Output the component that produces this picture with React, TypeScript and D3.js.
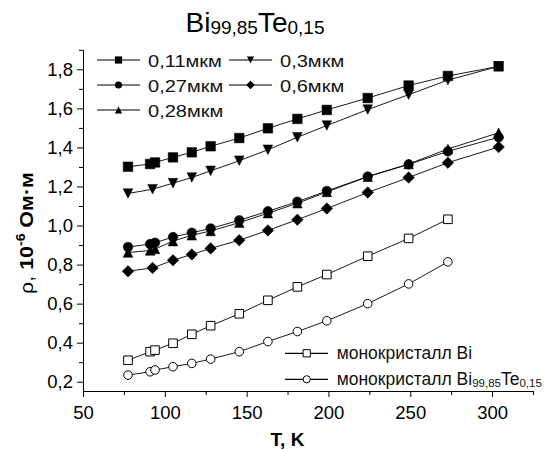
import React, { useEffect, useRef } from 'react';
import * as d3 from 'd3';

// temperatures, K
const tempA = [77.5, 91, 94, 105, 116.5, 128, 145.5, 163, 181, 199, 224, 249, 273, 304];
const tempB = [77.5, 92.5, 105, 116.5, 128, 145.5, 163, 181, 199, 224, 249, 273, 304];
const tempMono = [77.5, 91, 94, 105, 116.5, 128, 145.5, 163, 181, 199, 224, 249, 273];

// resistivity, 10^-6 Ohm*m
const rho011 = [1.301, 1.315, 1.323, 1.349, 1.375, 1.406, 1.448, 1.498, 1.546, 1.592, 1.653, 1.717, 1.766, 1.815];
const rho03 = [1.164, 1.186, 1.217, 1.246, 1.28, 1.332, 1.388, 1.452, 1.512, 1.594, 1.67, 1.745, 1.815];
const rho027 = [0.89, 0.905, 0.912, 0.941, 0.963, 0.985, 1.027, 1.073, 1.122, 1.177, 1.251, 1.313, 1.38, 1.452];
const rho028 = [0.862, 0.872, 0.88, 0.92, 0.95, 0.972, 1.015, 1.063, 1.114, 1.172, 1.25, 1.315, 1.392, 1.475];
const rho06 = [0.766, 0.783, 0.822, 0.852, 0.883, 0.925, 0.975, 1.03, 1.087, 1.169, 1.246, 1.322, 1.402];
const rhoMonoBi = [0.31, 0.354, 0.362, 0.397, 0.443, 0.487, 0.548, 0.617, 0.686, 0.749, 0.843, 0.934, 1.032];
const rhoMonoBiTe = [0.234, 0.251, 0.26, 0.277, 0.294, 0.316, 0.354, 0.406, 0.457, 0.512, 0.6, 0.701, 0.814];

const filmLabels = ['0,11мкм', '0,3мкм', '0,27мкм', '0,6мкм', '0,28мкм'];

const xTicks = [50, 100, 150, 200, 250, 300];
const xMinor = [75, 125, 175, 225, 275, 325];
const yTicks = [0.2, 0.4, 0.6, 0.8, 1.0, 1.2, 1.4, 1.6, 1.8];
const yMinor = [0.3, 0.5, 0.7, 0.9, 1.1, 1.3, 1.5, 1.7, 1.9];

const FONT = "'Liberation Sans', Arial, sans-serif";

const markerPath = (shape: string, s: number) => {
  if (shape === 'square') return `M${-s},${-s}h${2 * s}v${2 * s}h${-2 * s}Z`;
  if (shape === 'up') return `M0,${-s}L${s},${s}L${-s},${s}Z`;
  if (shape === 'down') return `M0,${s}L${s},${-s}L${-s},${-s}Z`;
  if (shape === 'diamond') return `M0,${-s * 1.2}L${s * 1.2},0L0,${s * 1.2}L${-s * 1.2},0Z`;
  return d3.arc()({ innerRadius: 0, outerRadius: s, startAngle: 0, endAngle: 2 * Math.PI } as any) as string;
};

export default function App() {
  const ref = useRef<SVGSVGElement>(null);

  useEffect(() => {
    const svg = d3.select(ref.current);
    svg.selectAll('*').remove();

    const x = d3.scaleLinear().domain([50, 325]).range([83, 533]);
    const y = d3.scaleLinear().domain([0.15, 1.9]).range([391.5, 49.8]);

    const films = [
      { label: filmLabels[0], temps: tempA, values: rho011, shape: 'square' },
      { label: filmLabels[1], temps: tempB, values: rho03, shape: 'down' },
      { label: filmLabels[2], temps: tempA, values: rho027, shape: 'circle' },
      { label: filmLabels[3], temps: tempB, values: rho06, shape: 'diamond' },
      { label: filmLabels[4], temps: tempA, values: rho028, shape: 'up' },
    ];
    const mono = [
      { temps: tempMono, values: rhoMonoBi, shape: 'square' },
      { temps: tempMono, values: rhoMonoBiTe, shape: 'circle' },
    ];

    // axes: minor ticks in their own groups so they don't replace the major ones
    svg.append('g').attr('transform', 'translate(0,391)')
      .call(d3.axisBottom(x).tickValues(xMinor).tickSize(4).tickSizeOuter(0).tickFormat(() => '') as any);
    const xg = svg.append('g').attr('transform', 'translate(0,391)');
    xg.call(d3.axisBottom(x).tickValues(xTicks).tickSize(6).tickSizeOuter(0).tickPadding(9).tickFormat((d: any) => String(d)));
    xg.selectAll('text').attr('font-size', 18.5).attr('font-family', FONT).attr('fill', '#000');

    svg.append('g').attr('transform', 'translate(83,0)')
      .call(d3.axisLeft(y).tickValues(yMinor).tickSize(4).tickSizeOuter(0).tickFormat(() => '') as any);
    const yg = svg.append('g').attr('transform', 'translate(83,0)');
    yg.call(d3.axisLeft(y).tickValues(yTicks).tickSize(6).tickSizeOuter(0).tickPadding(4)
      .tickFormat((d: any) => d3.format('.1f')(d).replace('.', ',')));
    yg.selectAll('text').attr('font-size', 18.5).attr('font-family', FONT).attr('fill', '#000');
    svg.selectAll('.domain').attr('stroke', '#000').attr('stroke-width', 1);
    svg.selectAll('.tick line').attr('stroke', '#000');

    // series
    const line = d3.line<number>();
    const drawSeries = (temps: number[], values: number[], shape: string, filled: boolean, size: number) => {
      const pts = temps.map((t, i) => [x(t), y(values[i])] as [number, number]);
      svg.append('path').attr('d', line(pts as any)).attr('fill', 'none').attr('stroke', '#000').attr('stroke-width', 0.9);
      svg.append('g').selectAll('path').data(pts).enter().append('path')
        .attr('transform', (p) => `translate(${p[0]},${p[1]})`)
        .attr('d', markerPath(shape, size))
        .attr('fill', filled ? '#000' : '#fff')
        .attr('stroke', '#000')
        .attr('stroke-width', filled ? 0.5 : 1);
    };
    mono.forEach((s) => drawSeries(s.temps, s.values, s.shape, false, 4.3));
    films.forEach((s) => drawSeries(s.temps, s.values, s.shape, true, 4.8));

    // top legend
    films.forEach((s, i) => {
      const x0 = [97, 229][i % 2];
      const cy = 60 + Math.floor(i / 2) * 25;
      svg.append('line').attr('x1', x0).attr('x2', x0 + 43).attr('y1', cy).attr('y2', cy).attr('stroke', '#000').attr('stroke-width', 1.2);
      svg.append('path').attr('transform', `translate(${x0 + 21.5},${cy})`).attr('d', markerPath(s.shape, 3.6)).attr('fill', '#000');
      svg.append('text').attr('transform', `translate(${x0 + 51},${cy + 6.5}) scale(1.18,1)`)
        .attr('font-size', 17).attr('font-family', FONT).attr('fill', '#111').text(s.label);
    });

    // bottom legend
    const monoLegend = [
      (t: any) => { t.append('tspan').text('монокристалл Bi'); },
      (t: any) => {
        t.append('tspan').text('монокристалл Bi');
        t.append('tspan').attr('font-size', 11.5).attr('dy', 1.5).text('99,85');
        t.append('tspan').attr('dy', -1.5).text('Te');
        t.append('tspan').attr('font-size', 11.5).attr('dy', 1.5).text('0,15');
      },
    ];
    mono.forEach((s, i) => {
      const cy = 353.3 + i * 26;
      svg.append('line').attr('x1', 285).attr('x2', 328).attr('y1', cy).attr('y2', cy).attr('stroke', '#000').attr('stroke-width', 1.2);
      svg.append('path').attr('transform', `translate(306.7,${cy})`).attr('d', markerPath(s.shape, 3.6))
        .attr('fill', '#fff').attr('stroke', '#000').attr('stroke-width', 1);
      const t = svg.append('text').attr('x', 336.7).attr('y', cy + 6).attr('font-size', 17.5).attr('font-family', FONT).attr('fill', '#111');
      monoLegend[i](t);
    });

    // title
    const title = svg.append('text').attr('x', 255).attr('y', 32).attr('text-anchor', 'middle')
      .attr('font-size', 28).attr('font-family', FONT).attr('fill', '#000');
    title.append('tspan').text('Bi');
    title.append('tspan').attr('font-size', 19).attr('dy', 2).text('99,85');
    title.append('tspan').attr('dy', -2).text('Te');
    title.append('tspan').attr('font-size', 19).attr('dy', 2).text('0,15');

    // axis titles
    svg.append('text').attr('x', 287.5).attr('y', 446).attr('text-anchor', 'middle')
      .attr('font-size', 19).attr('font-weight', 'bold').attr('font-family', FONT).text('T, K');

    const yl = svg.append('text').attr('transform', 'translate(33,233) rotate(-90) scale(1.16,1)')
      .attr('text-anchor', 'middle').attr('font-size', 18.5).attr('font-family', FONT).attr('fill', '#000');
    yl.append('tspan').text('ρ, ');
    yl.append('tspan').attr('font-weight', 'bold').text('10');
    yl.append('tspan').attr('font-weight', 'bold').attr('font-size', 12).attr('dy', -8).text('-6');
    yl.append('tspan').attr('font-weight', 'bold').attr('dy', 8).text(' Ом·м');
  }, []);

  return (
    <svg ref={ref} width={553} height={450}
      style={{ position: 'absolute', left: 0, top: 0, background: '#fff' }} />
  );
}
